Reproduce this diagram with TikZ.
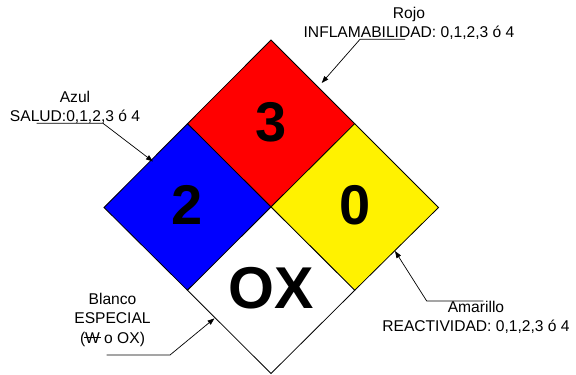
\documentclass[tikz,border=0pt]{standalone}
\usepackage{fontspec}
\setmainfont{Liberation Sans}
\usetikzlibrary{arrows.meta}
\newcommand\wbar{\mbox{\rlap{W}\hspace*{-0.05em}\rule[0.33em]{1.04em}{0.06em}\hspace*{-0.05em}}}
\begin{document}
\begin{tikzpicture}[x=1pt,y=-1pt,
  lbl/.style={font=\fontsize{15.6}{19}\selectfont, inner sep=0pt, align=center, anchor=base},
  num/.style={font=\fontsize{56}{56}\selectfont\bfseries, inner sep=0pt},
  bignum/.style={font=\fontsize{59}{59}\selectfont\bfseries, inner sep=0pt},
  quad/.style={draw=black, line width=0.8pt, line join=miter},
  conn/.style={draw=black, line width=0.7pt, -{Triangle[length=7pt,width=5pt]}}]
\useasboundingbox (0,0) rectangle (576,375);
% diamond corners
\coordinate (T) at (271,40);
\coordinate (L) at (104,207.5);
\coordinate (R) at (438.5,207.5);
\coordinate (B) at (271,373.5);
\coordinate (C) at (271,207);
\coordinate (TL) at (187.5,123.7);
\coordinate (TR) at (354.7,123.7);
\coordinate (BL) at (187.5,290.3);
\coordinate (BR) at (354.7,290.3);
% quadrants
\path[quad, fill=red] (T) -- (TR) -- (C) -- (TL) -- cycle;
\path[quad, fill=blue] (TL) -- (C) -- (BL) -- (L) -- cycle;
\path[quad, fill=yellow] (TR) -- (R) -- (BR) -- (C) -- cycle;
\path[quad, fill=white] (C) -- (BR) -- (B) -- (BL) -- cycle;
% numbers
\node[num] (n3) at (271,122) {3};
\node[num] (n2) at (187.5,205) {2};
\node[num] (n0) at (355,205) {0};
\node[bignum] (nox) at (271,288) {OX};
% labels (base anchor = baseline of last line)
\node[lbl] (azul) at (75,121.7) {Azul\\SALUD:0,1,2,3 ó 4};
\node[lbl] (rojo) at (409,37.3) {Rojo\\INFLAMABILIDAD: 0,1,2,3 ó 4};
\node[lbl, font=\fontsize{15.6}{19.6}\selectfont] (blanco) at (112.5,343.5) {Blanco\\ESPECIAL\\(\wbar{} o OX)};
\node[lbl] (amarillo) at (476,331.7) {Amarillo\\REACTIVIDAD: 0,1,2,3 ó 4};
% connector points
\coordinate (azA) at (36.7,123.3);
\coordinate (azB) at (103,123.3);
\coordinate (azT) at (153,161.5);
\coordinate (roA) at (405,39.3);
\coordinate (roB) at (360,39.3);
\coordinate (roT) at (321.7,83);
\coordinate (blA) at (106.7,355);
\coordinate (blB) at (170,355);
\coordinate (blT) at (214.5,318.3);
\coordinate (amA) at (483.3,301);
\coordinate (amB) at (426.7,301);
\coordinate (amT) at (395,251);
\draw[conn] (azA) -- (azB) -- (azT);
\draw[conn] (roA) -- (roB) -- (roT);
\draw[conn] (blA) -- (blB) -- (blT);
\draw[conn] (amA) -- (amB) -- (amT);
\end{tikzpicture}
\end{document}
